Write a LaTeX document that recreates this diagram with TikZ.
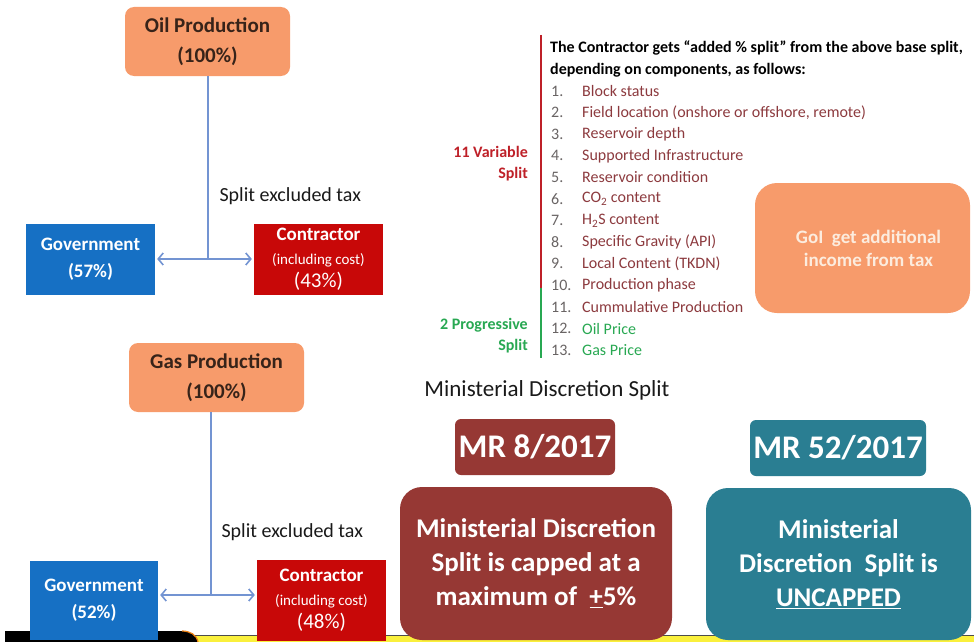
\documentclass[tikz,border=0pt]{standalone}
\usepackage{fontspec}
\setmainfont{Carlito}
\usetikzlibrary{arrows.meta,positioning}
\definecolor{prodorange}{RGB}{247,155,107}
\definecolor{proddark}{RGB}{55,35,25}
\definecolor{splitblue}{RGB}{115,148,210}
\definecolor{govblue}{RGB}{22,112,196}
\definecolor{conred}{RGB}{200,8,8}
\definecolor{mrred}{RGB}{150,56,52}
\definecolor{mrteal}{RGB}{42,126,146}
\definecolor{itembrown}{RGB}{140,58,62}
\definecolor{itemgray}{RGB}{105,100,100}
\definecolor{varred}{RGB}{190,32,40}
\definecolor{proggreen}{RGB}{40,168,82}
\definecolor{goicream}{RGB}{252,236,222}
\definecolor{footyellow}{RGB}{250,240,60}
\tikzset{prod box/.style={rounded corners=9pt,fill=prodorange,text=proddark,align=center,inner sep=0pt,
           font=\fontsize{21}{30}\selectfont\bfseries},
         gov box/.style={fill=govblue,text=white,align=center,inner sep=0pt,
           font=\fontsize{19}{27}\selectfont\bfseries},
         con box/.style={fill=conred,text=white,align=center,inner sep=0pt,
           font=\fontsize{19}{23.5}\selectfont},
         split line/.style={draw=splitblue,line width=1.6pt},
         split arrow/.style={split line,-{Straight Barb[length=5pt,width=12pt]},shorten >=2pt},
         split label/.style={anchor=west,text=black!90,font=\fontsize{20}{22}\selectfont},
         item num/.style={anchor=west,inner sep=0pt,text=itemgray,font=\fontsize{16}{18}\selectfont},
         item text/.style={anchor=west,inner sep=0pt,font=\fontsize{16}{18}\selectfont},
         group label/.style={anchor=east,align=right,inner sep=0pt,font=\fontsize{16}{21}\selectfont\bfseries},
         mr box/.style={rounded corners=6pt,text=white,inner sep=0pt,minimum height=56pt,
           font=\fontsize{33}{36}\selectfont\bfseries},
         rule box/.style={rounded corners=22pt,text=white,align=center,inner sep=0pt,
           font=\fontsize{27}{34}\selectfont\bfseries}
}
\begin{document}
\begin{tikzpicture}[x=1pt,y=-1pt]
    \useasboundingbox (0,0) rectangle (974,642);

    % footer strip
    \fill[footyellow] (195,635) rectangle (974,642);
    \draw[black!70,line width=0.8pt] (195,635) -- (974,635);
    \fill[black] (5,642) -- (5,631) -- (182,631) to[out=0,in=100] (198,642) -- cycle;
    \draw[orange!70!brown,line width=1.2pt] (182,631) to[out=0,in=100] (198,642);

    % oil split
    \node[prod box,minimum width=165pt,minimum height=69pt] (oil) at (207.5,41.5) {Oil Production\\(100\%)};
    \node[gov box,minimum width=129pt,minimum height=71pt] (gov1) at (90.5,259.5) {Government\\(57\%)};
    \node[con box,minimum width=129pt,minimum height=71pt] (con1) at (318.5,259.5)
        {\textbf{Contractor}\\{\fontsize{15}{16}\selectfont(including cost)}\\{\fontsize{21}{22}\selectfont(43\%)}};
    \coordinate (oil split) at (208,259);
    \draw[split line] (oil.south -| oil split) -- (oil split);
    \draw[split arrow] (oil split) -- (oil split -| gov1.east);
    \draw[split arrow] (oil split) -- (oil split -| con1.west);
    \node[split label] (tax1) at (216,196) {Split excluded tax};

    % gas split
    \node[prod box,minimum width=175pt,minimum height=69pt] (gas) at (216.5,377.5) {Gas Production\\(100\%)};
    \node[gov box,minimum width=128pt,minimum height=79pt] (gov2) at (94,600.5) {Government\\(52\%)};
    \node[con box,minimum width=129pt,minimum height=81pt] (con2) at (321.5,600.5)
        {\textbf{Contractor}\\{\fontsize{15}{16}\selectfont(including cost)}\\{\fontsize{21}{22}\selectfont(48\%)}};
    \coordinate (gas split) at (211,595);
    \draw[split line] (gas.south -| gas split) -- (gas split);
    \draw[split arrow] (gas split) -- (gas split -| gov2.east);
    \draw[split arrow] (gas split) -- (gas split -| con2.west);
    \node[split label] (tax2) at (218,532) {Split excluded tax};

    % variable split list
    \coordinate (bar top) at (541,35);
    \coordinate (bar mid) at (541,288);
    \coordinate (bar end) at (541,358);
    \draw[varred,line width=1.6pt] (bar top) -- (bar mid);
    \draw[proggreen,line width=1.6pt] (bar mid) -- (bar end);
    \node[anchor=west,align=left,inner sep=0pt,font=\fontsize{16}{22}\selectfont\bfseries] (head) at (550,59)
        {The Contractor gets “added \% split” from the above base split,\\depending on components, as follows:};
    \foreach \n/\txt/\col in {1/Block status/itembrown,
                              2/{Field location (onshore or offshore, remote)}/itembrown,
                              3/Reservoir depth/itembrown,
                              4/Supported Infrastructure/itembrown,
                              5/Reservoir condition/itembrown,
                              6/{CO\textsubscript{2} content}/itembrown,
                              7/{H\textsubscript{2}S content}/itembrown,
                              8/Specific Gravity (API)/itembrown,
                              9/Local Content (TKDN)/itembrown,
                              10/Production phase/itembrown,
                              11/Cummulative Production/itembrown,
                              12/Oil Price/proggreen,
                              13/Gas Price/proggreen} {
        \node[item num] (num\n) at (551,{91+21.6*(\n-1)}) {\n.};
        \node[item text,text=\col] (item\n) at (582,{91+21.6*(\n-1)}) {\txt};
    }
    \node[group label,text=varred] (var) at (528,164) {11 Variable\\Split};
    \node[group label,text=proggreen] (prog) at (528,336) {2 Progressive\\Split};

    % tax box
    \node[rounded corners=22pt,fill=prodorange,text=goicream,align=center,minimum width=215pt,minimum height=130pt,
          font=\fontsize{19}{23}\selectfont\bfseries] (goi) at (862.5,248) {\hspace*{12pt}GoI~~get additional\\\hspace*{12pt}income from tax};

    % ministerial discretion
    \node[font=\fontsize{23}{26}\selectfont,text=black!90] (mds) at (547,390) {Ministerial Discretion Split};
    \node[mr box,fill=mrred,minimum width=160pt] (mr8) at (535,447) {MR 8/2017};
    \node[mr box,fill=mrteal,minimum width=176pt] (mr52) at (838,448) {MR 52/2017};
    \node[rule box,fill=mrred,minimum width=272pt,minimum height=153pt] (capped) at (536,563.5)
        {Ministerial Discretion\\Split is capped at a\\maximum of ~\underline{+}5\%};
    \node[rule box,fill=mrteal,minimum width=265pt,minimum height=152pt] (uncapped) at (838.5,564)
        {Ministerial\\Discretion~~Split is\\\underline{UNCAPPED}};
\end{tikzpicture}
\end{document}
